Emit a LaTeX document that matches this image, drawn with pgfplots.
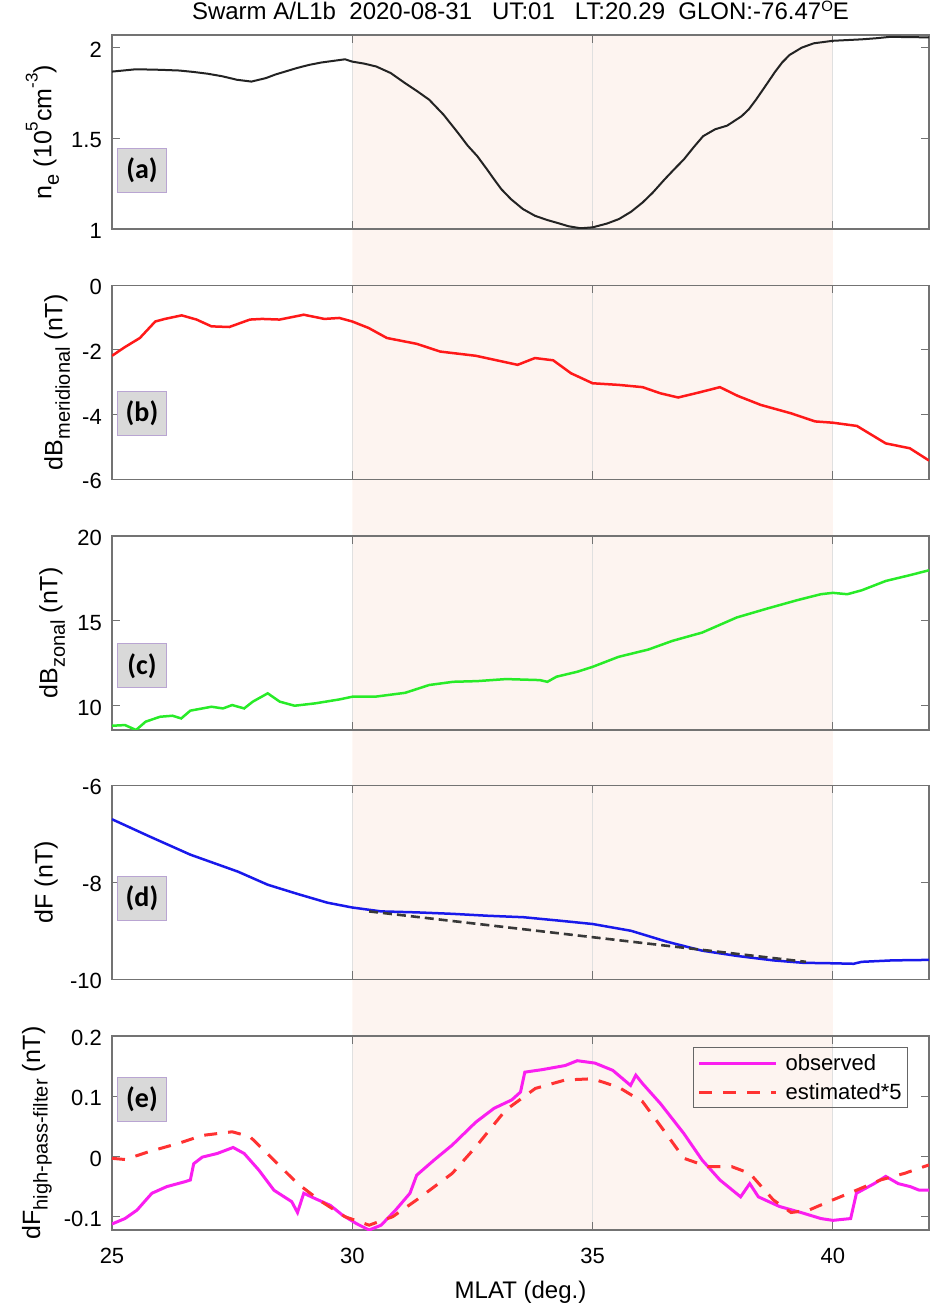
\documentclass[border=0pt]{standalone}
\usepackage{pgfplots}
\pgfplotsset{compat=1.18}
\usepackage{fontspec}
\setmainfont{Liberation Sans}
\newfontfamily\carlito{Carlito}

\definecolor{shadec}{RGB}{253,244,240}
\definecolor{neC}{RGB}{35,35,35}
\definecolor{redC}{RGB}{255,25,25}
\definecolor{greenC}{RGB}{40,235,40}
\definecolor{blueC}{RGB}{25,25,235}
\definecolor{magC}{RGB}{250,30,240}
\definecolor{estC}{RGB}{255,50,50}
\definecolor{boxB}{RGB}{185,165,210}

\newcommand{\sub}[1]{\raisebox{-0.3em}{\fontsize{20}{20}\selectfont #1}}
\newcommand{\sups}[1]{\raisebox{0.55em}{\fontsize{17}{17}\selectfont #1}}
\newcommand{\tsup}[1]{\raisebox{0.36em}{\fontsize{15}{15}\selectfont #1}}

\pgfplotsset{
  panel/.style={
    scale only axis, width=817pt, height=194pt, xmin=25, xmax=42, anchor=south west,
    axis line style={black!55, line width=1.1pt},
    tick align=inside, major tick length=8pt, tick style={black!55, line width=1pt},
    xtick={25,30,35,40}, xticklabels={},
    xmajorgrids, grid style={black!12, line width=0.8pt},
    yticklabel style={anchor=east, inner xsep=10pt, inner ysep=0pt, yshift=-2pt, font=\fontsize{22}{22}\selectfont},
    ylabel style={inner sep=2pt, font=\fontsize{25}{25}\selectfont},
  },
}
\tikzset{
  plabel/.style={fill=gray!30, draw=boxB, line width=0.8pt, minimum width=49pt, minimum height=44pt, inner sep=0pt,
    font=\carlito\bfseries\fontsize{28}{28}\selectfont},
}

\begin{document}
\begin{tikzpicture}
\useasboundingbox (-112pt,-74pt) rectangle (820pt,1230pt);

% background shading spanning all panels
\begin{axis}[scale only axis, width=817pt, height=1195pt, xmin=25, xmax=42, ymin=0, ymax=1,
  hide axis, anchor=south west, at={(0pt,0pt)}]
\addplot[fill=shadec, draw=none] coordinates {(30,0) (40,0) (40,1) (30,1)} \closedcycle;
\end{axis}

% (a)
\begin{axis}[panel, at={(0pt,1001pt)}, ymin=1, ymax=2.07,
  ytick={1,1.5,2}, yticklabels={1,1.5,2},
  ylabel={n\sub{e} (10\sups{5}cm\sups{-3})},
  title={Swarm A/L1b\ \ 2020-08-31\ \ \ UT:01\ \ \ LT:20.29\ \ GLON:-76.47\tsup{O}E},
  title style={at={(0.5,1)}, anchor=base, yshift=9pt, font=\fontsize{24}{24}\selectfont}]
\addplot[neC, line width=2pt] coordinates {
(25,1.868) (25.27,1.875) (25.5,1.881) (26.0,1.878) (26.4,1.874) (26.7,1.866) (27.0,1.856)
(27.3,1.842) (27.6,1.823) (27.9,1.813) (28.2,1.832) (28.4,1.852) (28.6,1.868) (28.85,1.888)
(29.1,1.905) (29.35,1.918) (29.6,1.927) (29.85,1.936) (30.0,1.923) (30.25,1.912) (30.5,1.896)
(30.8,1.86) (31.1,1.804) (31.35,1.76) (31.6,1.713) (31.9,1.63) (32.2,1.53) (32.4,1.46)
(32.6,1.402) (32.8,1.33) (32.95,1.274) (33.1,1.22) (33.3,1.165) (33.55,1.11) (33.8,1.073)
(34.05,1.05) (34.3,1.031) (34.5,1.015) (34.75,1.004) (35.0,1.009) (35.3,1.03) (35.55,1.055)
(35.8,1.095) (36.04,1.146) (36.25,1.2) (36.5,1.274) (36.7,1.33) (36.9,1.384) (37.1,1.45)
(37.3,1.512) (37.55,1.55) (37.8,1.570) (38.1,1.622) (38.25,1.66) (38.4,1.713) (38.6,1.79)
(38.8,1.868) (38.95,1.92) (39.1,1.960) (39.35,2.0) (39.6,2.024) (40.0,2.038) (40.3,2.042)
(40.6,2.046) (40.9,2.052) (41.2,2.060) (41.6,2.058) (42.0,2.057)};
\node[plabel] at (rel axis cs:0.0367,0.304) {(a)};
\end{axis}

% (b)
\begin{axis}[panel, at={(0pt,750.7pt)}, ymin=-6, ymax=0,
  ytick={-6,-4,-2,0}, yticklabels={-6,-4,-2,0},
  ylabel={dB\sub{meridional} (nT)}]
\addplot[redC, line width=2.5pt] coordinates {
(25,-2.18) (25.27,-1.91) (25.58,-1.63) (25.9,-1.12) (26.1,-1.04) (26.45,-0.93) (26.76,-1.06)
(27.07,-1.27) (27.44,-1.29) (27.87,-1.06) (28.12,-1.04) (28.49,-1.06) (28.99,-0.91) (29.42,-1.04)
(29.73,-1.01) (30.0,-1.12) (30.34,-1.32) (30.72,-1.63) (31.34,-1.81) (31.83,-2.05) (32.57,-2.18)
(33.44,-2.46) (33.8,-2.25) (34.18,-2.32) (34.55,-2.72) (35.0,-3.03) (35.54,-3.08) (36.04,-3.15)
(36.41,-3.34) (36.78,-3.47) (37.2,-3.32) (37.65,-3.15) (38.02,-3.42) (38.5,-3.70) (39.13,-3.96)
(39.63,-4.21) (40.0,-4.25) (40.5,-4.35) (41.1,-4.89) (41.6,-5.04) (42.0,-5.42)};
\node[plabel] at (rel axis cs:0.0367,0.342) {(b)};
\end{axis}

% (c)
\begin{axis}[panel, at={(0pt,500pt)}, ymin=8.57, ymax=20,
  ytick={10,15,20}, yticklabels={10,15,20},
  ylabel={dB\sub{zonal} (nT)}]
\addplot[greenC, line width=2.5pt] coordinates {
(25,8.82) (25.27,8.86) (25.5,8.57) (25.7,9.06) (26.0,9.35) (26.26,9.41) (26.44,9.25) (26.63,9.71)
(26.88,9.84) (27.07,9.94) (27.31,9.84) (27.5,10.04) (27.75,9.84) (27.93,10.24) (28.24,10.73)
(28.49,10.24) (28.8,10.0) (29.23,10.14) (29.73,10.37) (30.0,10.53) (30.47,10.53) (31.1,10.76)
(31.6,11.22) (32.1,11.41) (32.6,11.45) (33.2,11.57) (33.9,11.51) (34.06,11.41) (34.25,11.71)
(34.68,12.0) (35.0,12.29) (35.54,12.88) (36.16,13.31) (36.66,13.82) (37.28,14.31) (38.0,15.2)
(38.64,15.73) (39.26,16.22) (39.75,16.57) (40.0,16.65) (40.3,16.57) (40.6,16.8) (41.1,17.35)
(41.6,17.69) (42.0,17.98)};
\node[plabel] at (rel axis cs:0.0367,0.331) {(c)};
\end{axis}

% (d)
\begin{axis}[panel, at={(0pt,250.7pt)}, ymin=-10, ymax=-6,
  ytick={-10,-8,-6}, yticklabels={-10,-8,-6},
  ylabel={dF (nT)}]
\addplot[blueC, line width=2.5pt] coordinates {
(25,-6.70) (25.77,-7.05) (26.63,-7.43) (27.62,-7.78) (28.24,-8.05) (28.86,-8.24) (29.48,-8.42)
(30.0,-8.52) (30.6,-8.60) (31.34,-8.62) (32.08,-8.65) (32.82,-8.69) (33.56,-8.72) (34.3,-8.79)
(35.0,-8.86) (35.8,-9.0) (36.53,-9.22) (37.28,-9.41) (38.02,-9.52) (38.76,-9.61) (39.38,-9.66)
(40.0,-9.67) (40.43,-9.68) (40.6,-9.64) (41.24,-9.61) (42.0,-9.60)};
\addplot[black!78, line width=2.6pt, dash pattern=on 9pt off 5pt] coordinates {(30.35,-8.60) (39.44,-9.64)};
\node[plabel] at (rel axis cs:0.0367,0.416) {(d)};
\end{axis}

% (e)
\begin{axis}[panel, at={(0pt,0pt)}, ymin=-0.122, ymax=0.2,
  ytick={-0.1,0,0.1,0.2}, yticklabels={-0.1,0,0.1,0.2},
  ylabel={dF\sub{high-pass-filter} (nT)},
  xticklabels={25,30,35,40},
  xticklabel style={anchor=base, yshift=-33pt, font=\fontsize{22}{22}\selectfont},
  xlabel={MLAT (deg.)},
  xlabel style={at={(axis description cs:0.5,0)}, anchor=base, yshift=-68pt, font=\fontsize{24}{24}\selectfont},
  legend style={at={(axis cs:37.09,0.181)}, anchor=north west, draw=black!60, fill=none, line width=1pt,
    font=\fontsize{22}{22}\selectfont, inner xsep=4pt, inner ysep=5pt, row sep=7pt, column sep=6pt,
    cells={anchor=west}},
  legend image code/.code={\draw[#1] (0pt,0pt) -- (77pt,0pt);}]
\addplot[magC, line width=3pt] coordinates {
(25,-0.112) (25.27,-0.103) (25.52,-0.089) (25.83,-0.061) (26.14,-0.050) (26.51,-0.042) (26.63,-0.039)
(26.7,-0.012) (26.88,-0.001) (27.19,0.005) (27.52,0.015) (27.75,0.005) (28.06,-0.023) (28.37,-0.056)
(28.74,-0.075) (28.86,-0.093) (28.99,-0.061) (29.23,-0.070) (29.54,-0.081) (29.79,-0.097) (30.1,-0.112)
(30.35,-0.122) (30.6,-0.114) (30.9,-0.089) (31.2,-0.061) (31.34,-0.031) (31.7,-0.006) (32.08,0.019)
(32.57,0.057) (32.95,0.080) (33.32,0.094) (33.5,0.107) (33.59,0.140) (33.94,0.144) (34.43,0.151)
(34.68,0.159) (35.05,0.155) (35.42,0.143) (35.79,0.118) (35.9,0.135) (36.04,0.121) (36.41,0.088)
(36.9,0.038) (37.28,-0.006) (37.65,-0.039) (38.08,-0.067) (38.27,-0.045) (38.45,-0.067) (38.89,-0.083)
(39.38,-0.094) (39.75,-0.103) (40.0,-0.106) (40.37,-0.103) (40.49,-0.061) (40.86,-0.045) (41.1,-0.033)
(41.36,-0.045) (41.61,-0.050) (41.8,-0.056) (42.0,-0.056)};
\addlegendentry{observed}
\addplot[estC, line width=3pt, dash pattern=on 13pt off 11pt] coordinates {
(25,-0.003) (25.27,-0.005) (25.77,0.008) (26.39,0.022) (26.88,0.035) (27.5,0.041) (27.87,0.033)
(28.37,-0.006) (28.86,-0.045) (29.36,-0.075) (29.85,-0.100) (30.35,-0.114) (30.84,-0.100) (31.34,-0.072)
(32.08,-0.028) (32.57,0.016) (33.19,0.077) (33.81,0.113) (34.43,0.127) (35.0,0.129) (35.54,0.115)
(36.04,0.091) (36.53,0.038) (36.9,-0.003) (37.4,-0.017) (37.9,-0.017) (38.27,-0.028) (38.76,-0.072)
(39.13,-0.093) (39.5,-0.089) (40.0,-0.072) (40.49,-0.056) (40.99,-0.039) (41.49,-0.028) (42.0,-0.014)};
\addlegendentry{estimated*5}
\node[plabel] at (rel axis cs:0.0367,0.674) {(e)};
\end{axis}
\end{tikzpicture}
\end{document}
